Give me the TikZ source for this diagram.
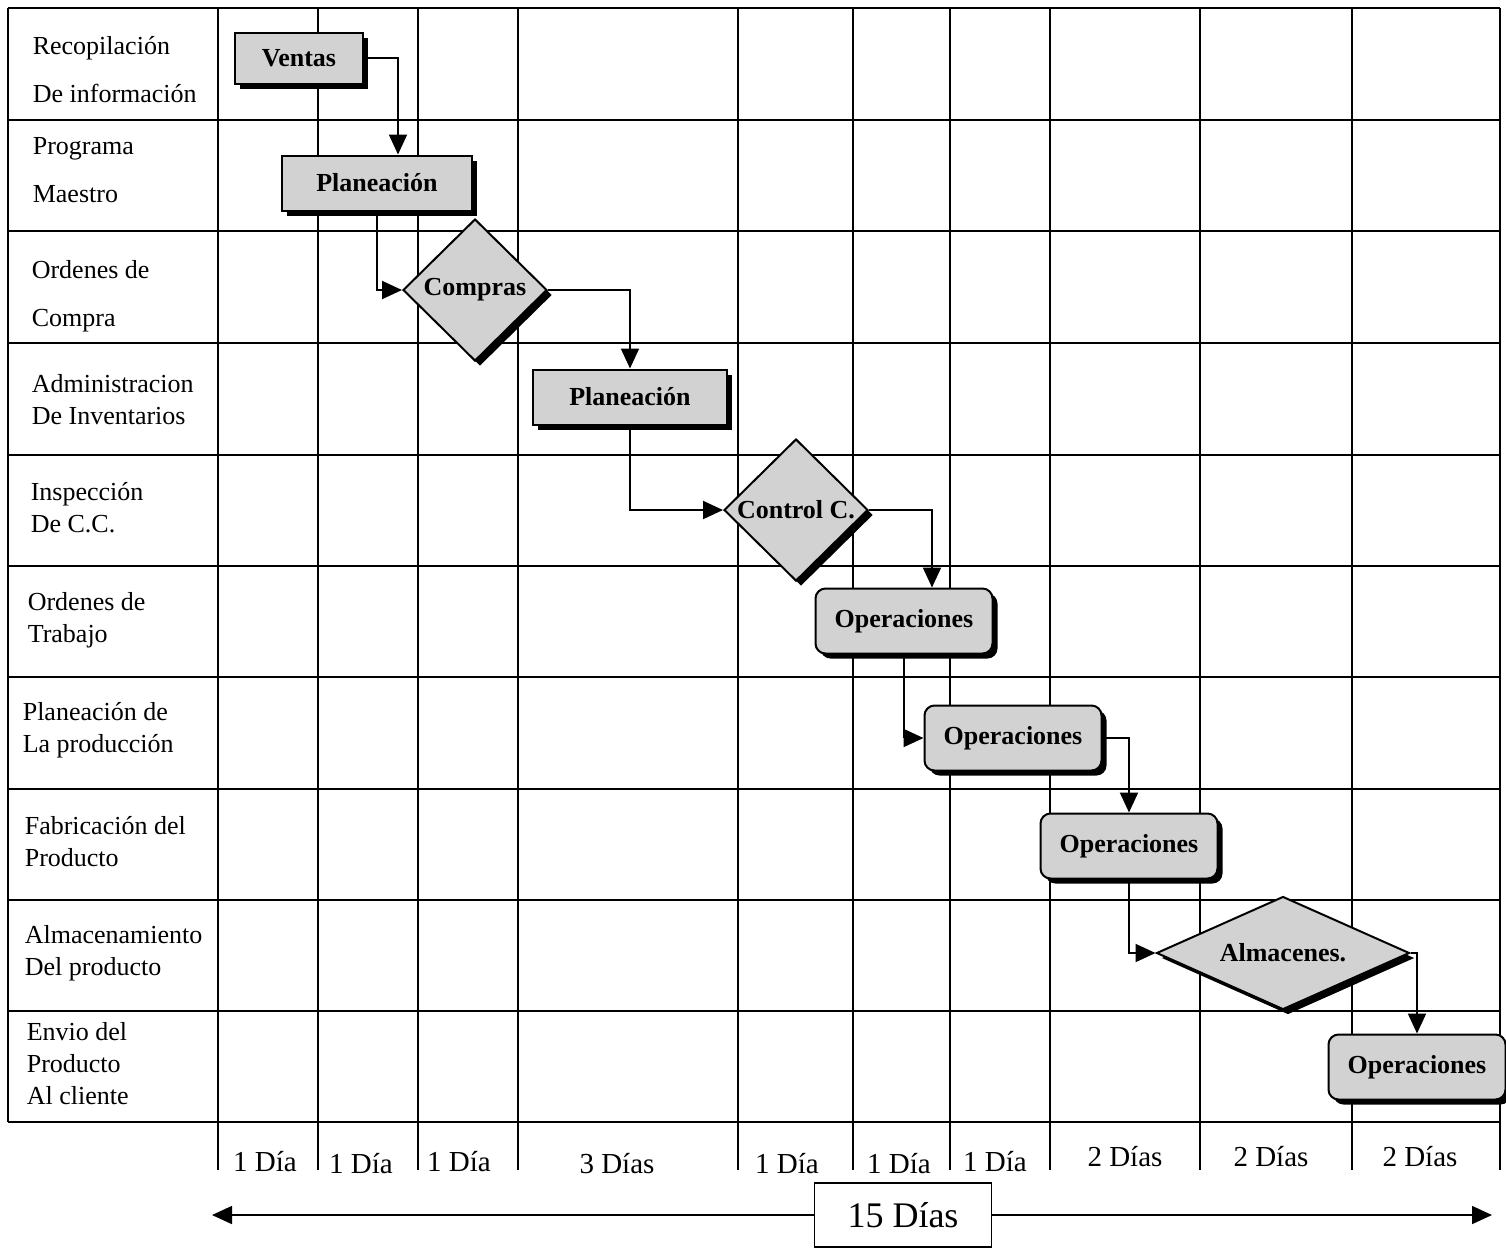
\documentclass[tikz,border=0pt]{standalone}
\usepackage{fontspec}
\setmainfont{Liberation Serif}
\usetikzlibrary{arrows.meta,shapes.geometric,shadows,calc}

\tikzset{
	caja/.style={draw,line width=1pt,fill=gray!35,inner sep=0pt,
		font=\fontsize{13}{15}\selectfont\bfseries,
		drop shadow={shadow xshift=2.5pt,shadow yshift=-2.5pt,fill=black,opacity=1}},
	operacion/.style={caja,rounded corners=5pt,minimum width=88.5pt,minimum height=32.5pt},
	decision/.style={caja,diamond,aspect=1},
	etiqueta/.style={anchor=west,align=left,inner sep=0pt,font=\fontsize{13}{16}\selectfont},
	etiquetaancha/.style={etiqueta,font=\fontsize{13}{24}\selectfont},
	dias/.style={font=\fontsize{14.5}{16}\selectfont},
	flujo/.style={->,line width=1pt}
}

\begin{document}
\begin{tikzpicture}[x=0.5pt,y=-0.5pt,>={Triangle[length=10pt,width=9pt]},line width=0.8pt]
			\useasboundingbox (0,0) rectangle (1506,1250);
			\draw (8,8) -- (8,1122);
			\foreach \x in {218,318,418,518,738,853,950,1050,1200,1352,1500}
				\draw (\x,8) -- (\x,1170);
			\foreach \y in {8,120,231,343,455,566,677,789,900,1011,1122}
				\draw (8,\y) -- (1500,\y);
			\node[etiquetaancha] (r1) at (32,70) {Recopilación\\De información};
			\node[etiquetaancha] (r2) at (32,170) {Programa\\Maestro};
			\node[etiquetaancha] (r3) at (31,296) {Ordenes de\\Compra};
			\node[etiqueta] (r4) at (31,400) {Administracion\\De Inventarios};
			\node[etiqueta] (r5) at (30,508) {Inspección\\De C.C.};
			\node[etiqueta] (r6) at (27,620) {Ordenes de\\Trabajo};
			\node[etiqueta] (r7) at (22,730) {Planeación de\\La producción};
			\node[etiqueta] (r8) at (24,842) {Fabricación del\\Producto};
			\node[etiqueta] (r9) at (24,953) {Almacenamiento\\Del producto};
			\node[etiqueta] (r10) at (26,1064) {Envio del\\Producto\\Al cliente};
			\node[caja,minimum width=64pt,minimum height=25.5pt] (ventas) at (299,58) {Ventas};
			\node[caja,minimum width=95pt,minimum height=27.5pt] (plan1) at (377,183) {Planeación};
			\node[decision,minimum width=72pt,minimum height=71pt] (compras) at (475,290) {Compras};
			\node[caja,minimum width=97pt,minimum height=27.5pt] (plan2) at (630,397) {Planeación};
			\node[decision,minimum width=72pt,minimum height=71pt] (control) at (796,510) {Control C.};
			\node[operacion] (oper1) at (904,621) {Operaciones};
			\node[operacion] (oper2) at (1013,738) {Operaciones};
			\node[operacion] (oper3) at (1129,846) {Operaciones};
			\node[decision,aspect=2.2,minimum width=126.5pt,minimum height=56.5pt] (almacen) at (1283,953) {Almacenes.};
			\node[operacion] (oper4) at (1417,1067) {Operaciones};
			\draw[flujo] (ventas.east) -| ($(plan1.north)+(21,0)$);
			\draw[flujo] (plan1.south) |- (compras.west);
			\draw[flujo] (compras.east) -| (plan2.north);
			\draw[flujo] (plan2.south) |- (control.west);
			\draw[flujo] (control.east) -| ($(oper1.north)+(28,0)$);
			\draw[flujo] (oper1.south) |- (oper2.west);
			\draw[flujo] (oper2.east) -| (oper3.north);
			\draw[flujo] (oper3.south) |- (almacen.west);
			\draw[flujo] (almacen.east) -| (oper4.north);
			\foreach \x/\y/\t [count=\i] in {265/1162/1 Día,361/1164/1 Día,459/1162/1 Día,617/1164/3 Días,787/1164/1 Día,899/1164/1 Día,995/1162/1 Día,1125/1157/2 Días,1271/1157/2 Días,1420/1157/2 Días}
				\node[dias] (d\i) at (\x,\y) {\t};
			\coordinate (izq) at (212,1215);
			\coordinate (der) at (1492,1215);
			\node[draw,minimum width=88.5pt,minimum height=32pt,font=\fontsize{18}{20}\selectfont] (total) at (903,1215) {15 Días};
			\draw[->] (total.west) -- (izq);
			\draw[->] (total.east) -- (der);
		\end{tikzpicture}
\end{document}
